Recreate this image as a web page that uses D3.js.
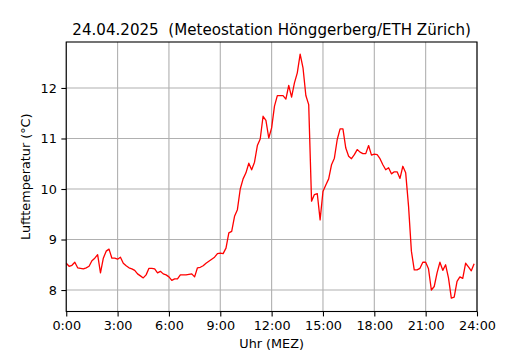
<!DOCTYPE html>
<html>
<head>
<meta charset="utf-8">
<script src="https://cdn.jsdelivr.net/npm/d3@7"></script>
<style>
  body { margin: 0; background: #fff; }
  text { font-family: "DejaVu Sans", sans-serif; fill: #000; white-space: pre; }
</style>
</head>
<body>
<div id="chart"></div>
<script>
// 10-minute readings, 0:00 .. 23:50
var temps = [
  8.53, 8.47, 8.49, 8.55, 8.44, 8.43, 8.42, 8.44, 8.47, 8.58, 8.63, 8.70,
  8.34, 8.63, 8.77, 8.81, 8.63, 8.63, 8.61, 8.65, 8.53, 8.48, 8.44, 8.42,
  8.39, 8.32, 8.28, 8.24, 8.30, 8.43, 8.43, 8.42, 8.34, 8.37, 8.32, 8.30,
  8.26, 8.19, 8.22, 8.22, 8.30, 8.30, 8.30, 8.31, 8.32, 8.26, 8.44, 8.45,
  8.48, 8.53, 8.57, 8.61, 8.65, 8.72, 8.73, 8.72, 8.83, 9.13, 9.16, 9.46,
  9.59, 10.00, 10.20, 10.32, 10.51, 10.38, 10.53, 10.86, 10.99, 11.44, 11.36, 11.01,
  11.21, 11.64, 11.85, 11.85, 11.85, 11.78, 12.05, 11.82, 12.10, 12.30, 12.67, 12.40,
  11.85, 11.67, 9.76, 9.89, 9.91, 9.39, 9.95, 10.08, 10.20, 10.48, 10.61, 10.98,
  11.19, 11.19, 10.81, 10.65, 10.60, 10.68, 10.78, 10.73, 10.70, 10.70, 10.86, 10.67,
  10.69, 10.68, 10.60, 10.48, 10.38, 10.42, 10.30, 10.34, 10.34, 10.21, 10.45, 10.32,
  9.66, 8.77, 8.40, 8.40, 8.43, 8.55, 8.55, 8.42, 8.00, 8.07, 8.34, 8.55,
  8.39, 8.50, 8.24, 7.84, 7.86, 8.17, 8.26, 8.23, 8.53, 8.46, 8.38, 8.52
];
var xTicks = [0, 3, 6, 9, 12, 15, 18, 21, 24];
var xTickLabels = ["0:00", "3:00", "6:00", "9:00", "12:00", "15:00", "18:00", "21:00", "24:00"];
var yTicks = [8, 9, 10, 11, 12];
var title = "24.04.2025  (Meteostation Hönggerberg/ETH Zürich)";

var width = 530, height = 350,
    margin = {top: 42, right: 53, bottom: 38.5, left: 66.25},
    w = width - margin.left - margin.right,
    h = height - margin.top - margin.bottom;

var x = d3.scaleLinear().domain([0, 24]).range([0, w]),
    y = d3.scaleLinear().domain([7.575, 12.91]).range([h, 0]);

var svg = d3.select("#chart")
    .append("svg")
        .attr("width", width)
        .attr("height", height)
    .append("g")
        .attr("transform", `translate(${margin.left}, ${margin.top})`);

// grid
svg.append("g")
    .selectAll("line")
    .data(xTicks)
  .enter().append("line")
    .attr("x1", d => x(d)).attr("x2", d => x(d))
    .attr("y1", 0).attr("y2", h)
    .attr("stroke", "#b0b0b0").attr("stroke-width", 1.1);

svg.append("g")
    .selectAll("line")
    .data(yTicks)
  .enter().append("line")
    .attr("x1", 0).attr("x2", w)
    .attr("y1", d => y(d)).attr("y2", d => y(d))
    .attr("stroke", "#b0b0b0").attr("stroke-width", 1.1);

// temperature line
var line = d3.line()
    .x((d, i) => x(i / 6))
    .y(d => y(d));

svg.append("path")
    .datum(temps)
    .attr("fill", "none")
    .attr("stroke", "#ff0000")
    .attr("stroke-width", 1.3)
    .attr("stroke-linejoin", "round")
    .attr("d", line);

// axes
var xAxis = d3.axisBottom(x)
    .tickValues(xTicks)
    .tickFormat((d, i) => xTickLabels[i])
    .tickSizeInner(4.9).tickSizeOuter(0).tickPadding(4.5);

var yAxis = d3.axisLeft(y)
    .tickValues(yTicks)
    .tickFormat(d3.format("d"))
    .tickSizeInner(4.9).tickSizeOuter(0).tickPadding(4.5);

var gx = svg.append("g")
    .attr("transform", `translate(0, ${h})`)
    .call(xAxis);
var gy = svg.append("g").call(yAxis);

[gx, gy].forEach(function (g) {
    g.select(".domain").remove();
    g.selectAll(".tick line").attr("stroke", "#000").attr("stroke-width", 1.1);
    g.selectAll(".tick text")
        .style("font-family", "DejaVu Sans")
        .style("font-size", "12.8px");
});

// frame
svg.append("rect")
    .attr("width", w).attr("height", h)
    .attr("fill", "none")
    .attr("stroke", "#000")
    .attr("stroke-width", 1.1);

// labels
svg.append("text")
    .attr("x", w / 2).attr("y", -7)
    .attr("text-anchor", "middle")
    .style("font-size", "15.1px")
    .text(title);

svg.append("text")
    .attr("x", w / 2).attr("y", h + 36)
    .attr("text-anchor", "middle")
    .style("font-size", "12.8px")
    .text("Uhr (MEZ)");

svg.append("text")
    .attr("transform", `translate(${-36}, ${h / 2}) rotate(-90)`)
    .attr("text-anchor", "middle")
    .style("font-size", "12.8px")
    .text("Lufttemperatur (°C)");
</script>
</body>
</html>
